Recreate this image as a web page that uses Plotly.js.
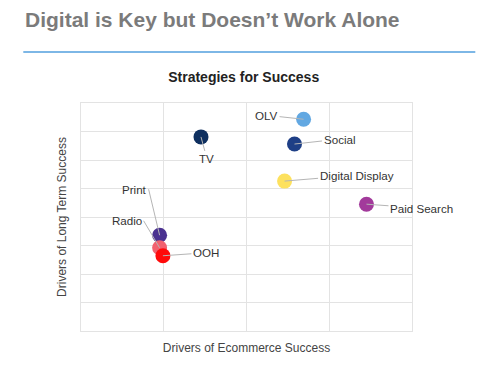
<!DOCTYPE html>
<html>
<head>
<meta charset="utf-8">
<script src="https://cdn.plot.ly/plotly-3.0.1.min.js"></script>
<style>html,body{margin:0;padding:0;background:#fff;}#chart{width:477px;height:377px;}</style>
</head>
<body>
<div id="chart"></div>
<script>
// Data
const channels = ["TV", "OLV", "Social", "Digital Display", "Paid Search", "Print", "Radio", "OOH"];
const ecommerceScore = [1.45, 2.69, 2.58, 2.46, 3.45, 0.95, 0.95, 0.99];
const longTermScore = [6.81, 7.43, 6.56, 5.26, 4.45, 3.36, 2.92, 2.64];
const colors = ["#0e2f5f", "#62a8e2", "#1e3f86", "#fde15e", "#a23a9b", "#4a3190", "#f2616f", "#ff0a0a"];
// label offsets (pixels) from point to label, and label anchoring
const labelDX = [6, -37, 45, 72, 55, -11, -16, 43];
const labelDY = [22, -4, -5, -6, 4, -46, -27, -3];
const labelAnchor = ["auto", "auto", "auto", "auto", "auto", "right", "right", "auto"];

const trace = {
  x: ecommerceScore,
  y: longTermScore,
  text: channels,
  mode: "markers",
  type: "scatter",
  hoverinfo: "text",
  marker: {size: 15, color: colors, line: {width: 0}}
};

const annotations = channels.map((c, i) => ({
  x: ecommerceScore[i], y: longTermScore[i], xref: "x", yref: "y",
  text: c, showarrow: true, arrowhead: 0, arrowwidth: 1, arrowcolor: "#b5b5b5",
  ax: labelDX[i], ay: labelDY[i], standoff: 0,
  xanchor: labelAnchor[i],
  font: {family: "Arial, Liberation Sans, sans-serif", size: 11.6, color: "#333333"}
}));

annotations.push({
  xref: "paper", yref: "paper", x: -0.175, y: (331 - 19) / 228.3, xanchor: "left", yanchor: "middle",
  text: "<b>Digital is Key but Doesn’t Work Alone</b>", showarrow: false,
  font: {family: "Arial, Liberation Sans, sans-serif", size: 21, color: "#7b7b7b"}
});

const layout = {
  width: 477, height: 377,
  margin: {l: 80.7, r: 65.3, t: 102.7, b: 46, pad: 0},
  paper_bgcolor: "#ffffff", plot_bgcolor: "#ffffff",
  showlegend: false,
  title: {
    text: "<b>Strategies for Success</b>", x: 243.7/477, xanchor: "center",
    y: 1 - 77/377, yanchor: "middle",
    font: {family: "Arial, Liberation Sans, sans-serif", size: 14, color: "#222222"}
  },
  xaxis: {
    range: [0, 4], dtick: 1, showticklabels: false, ticks: "",
    showgrid: true, gridcolor: "#e3e3e3", gridwidth: 1,
    zeroline: false, showline: true, mirror: true, linecolor: "#e3e3e3", linewidth: 1,
    fixedrange: true,
    title: {text: "Drivers of Ecommerce Success", standoff: 12,
      font: {family: "Arial, Liberation Sans, sans-serif", size: 12, color: "#444444"}}
  },
  yaxis: {
    range: [0, 8], dtick: 1, showticklabels: false, ticks: "",
    showgrid: true, gridcolor: "#e3e3e3", gridwidth: 1,
    zeroline: false, showline: true, mirror: true, linecolor: "#e3e3e3", linewidth: 1,
    fixedrange: true,
    title: {text: "Drivers of Long Term Success", standoff: 10,
      font: {family: "Arial, Liberation Sans, sans-serif", size: 12, color: "#444444"}}
  },
  shapes: [{
    type: "line", xref: "paper", yref: "paper",
    x0: (23 - 80.7) / 331, x1: (475 - 80.7) / 331,
    y0: (331 - 51.7) / 228.3, y1: (331 - 51.7) / 228.3,
    line: {color: "#7db7e6", width: 2}
  }],
  annotations: annotations
};

Plotly.newPlot("chart", [trace], layout, {displayModeBar: false, staticPlot: true});
</script>
</body>
</html>
